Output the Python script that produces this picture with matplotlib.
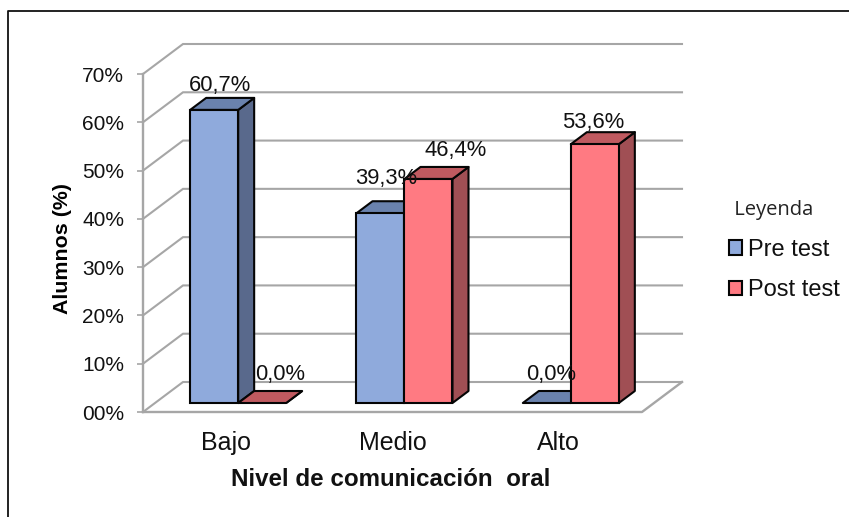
import matplotlib
matplotlib.use("Agg")
import matplotlib.pyplot as plt
from matplotlib.patches import Rectangle
from matplotlib.lines import Line2D

plt.rcParams['font.family'] = ['Liberation Sans', 'DejaVu Sans']

categories = ["Bajo", "Medio", "Alto"]
pre_test = [60.7, 39.3, 0.0]
post_test = [0.0, 46.4, 53.6]
y_ticks = [0, 10, 20, 30, 40, 50, 60, 70]
y_tick_labels = ["00%", "10%", "20%", "30%", "40%", "50%", "60%", "70%"]

W, H = 849, 517
L, R, B, T = 143, 642, 412, 74
fig = plt.figure(figsize=(W / 100, H / 100), dpi=100, facecolor="white")
ax = fig.add_axes([L / W, 1 - B / H, (R - L) / W, (B - T) / H])
ax.set_xlim(-0.5, 2.5)
ax.set_ylim(0, 70)
ax.patch.set_visible(False)
for s in ax.spines.values():
    s.set_visible(False)

px_x = 3 / (R - L)      # data units per pixel
px_y = 70 / (B - T)
GRAY = "#a6a6a6"
EDGE = "#050505"

# gridlines on the walls (depth 40 x 30 px)
wall_dx, wall_dy = 40 * px_x, 30 * px_y
x0, x1 = -0.5, 2.5
for v in y_ticks:
    ax.plot([x0, x0 + wall_dx, x1 + wall_dx], [v, v + wall_dy, v + wall_dy],
            color=GRAY, lw=1.5, clip_on=False, zorder=1, solid_joinstyle="miter")
ax.plot([x0, x1, x1 + wall_dx], [0, 0, wall_dy], color=GRAY, lw=1.7, clip_on=False, zorder=1)
ax.plot([x0, x0], [0, 70], color=GRAY, lw=1.7, clip_on=False, zorder=1)

# bars
bw = 48 * px_x
off_x, off_y = 12 * px_x, 9 * px_y
dep_x, dep_y = 16 * px_x, 12 * px_y
LW = 1.5


def bar3d(xc, v, front, top, side, z):
    xl = xc + off_x
    y0 = off_y
    yt = v + off_y
    ax.fill([xl + bw, xl + bw + dep_x, xl + bw + dep_x, xl + bw],
            [y0, y0 + dep_y, yt + dep_y, yt], facecolor=side, edgecolor=EDGE,
            lw=LW, clip_on=False, zorder=z, joinstyle="round")
    ax.fill([xl, xl + bw, xl + bw + dep_x, xl + dep_x],
            [yt, yt, yt + dep_y, yt + dep_y], facecolor=top, edgecolor=EDGE,
            lw=LW, clip_on=False, zorder=z, joinstyle="round")
    if v > 0:
        ax.bar(xl, v, width=bw, bottom=y0, align="edge", facecolor=front,
               edgecolor=EDGE, lw=LW, clip_on=False, zorder=z + 0.1)


C_PRE = ("#8faadc", "#6a82ad", "#59698c")
C_POST = ("#ff7a82", "#c05a60", "#a04f54")
for i in range(3):
    bar3d(i - bw, pre_test[i], *C_PRE, 3 + i)
    bar3d(i, post_test[i], *C_POST, 3.5 + i)

# data labels: (dx, dy) pixel shift from the top of the front face
pre_shift = [(6, 19), (6, 29), (4, 23)]
post_shift = [(18, 23), (27, 23), (-2, 16)]


def fmt(v):
    return f"{v:.1f}%".replace(".", ",")


for i in range(3):
    for xc, v, sh in ((i - bw, pre_test[i], pre_shift[i]), (i, post_test[i], post_shift[i])):
        ax.annotate(fmt(v), xy=(xc + off_x + bw / 2, v + off_y), xytext=sh,
                    textcoords="offset pixels", ha="center", va="baseline",
                    fontsize=15.8, color="#111111", zorder=20, annotation_clip=False)

# axes ticks and labels
ax.set_yticks(y_ticks, y_tick_labels, fontsize=15, color="#111111")
ax.set_xticks(range(3), categories, fontsize=18, color="#111111")
ax.tick_params(axis="y", length=4.5, width=1.2, color=GRAY, pad=9)
ax.tick_params(axis="x", length=0, pad=14)
fig.text(391 / W, 1 - 479.5 / H, "Nivel de comunicación  oral", fontsize=17.4, fontweight="bold",
         ha="center", va="center", color="#111111")
fig.text(62 / W, 1 - 248 / H, "Alumnos (%)", fontsize=15.4, fontweight="bold", rotation=90,
         ha="center", va="center", color="#000000")

# legend
handles = [Rectangle((0, 0), 1, 1, facecolor=C_PRE[0], edgecolor=EDGE, lw=1.5),
           Rectangle((0, 0), 1, 1, facecolor=C_POST[0], edgecolor=EDGE, lw=1.5)]
leg = fig.legend(handles, ["Pre test", "Post test"], loc="upper left",
                 bbox_to_anchor=(714 / W, 1 - 185 / H), frameon=False,
                 prop={"size": 17, "family": "Liberation Sans"}, title=" Leyenda",
                 title_fontproperties={"size": 14.5, "family": "Open Sans"},
                 handlelength=0.55, handleheight=0.55, handletextpad=0.22,
                 labelspacing=0.785, borderpad=0.15, alignment="left")
leg.get_title().set_color("#222222")
for t in leg.get_texts():
    t.set_color("#111111")

# outer frame (left and top edges remain inside the crop)
fig.add_artist(Line2D([8 / W, 8 / W, 849 / W], [0, 1 - 11 / H, 1 - 11 / H],
                      color="#111111", lw=1.3))

fig.savefig("out.png", dpi=100)
